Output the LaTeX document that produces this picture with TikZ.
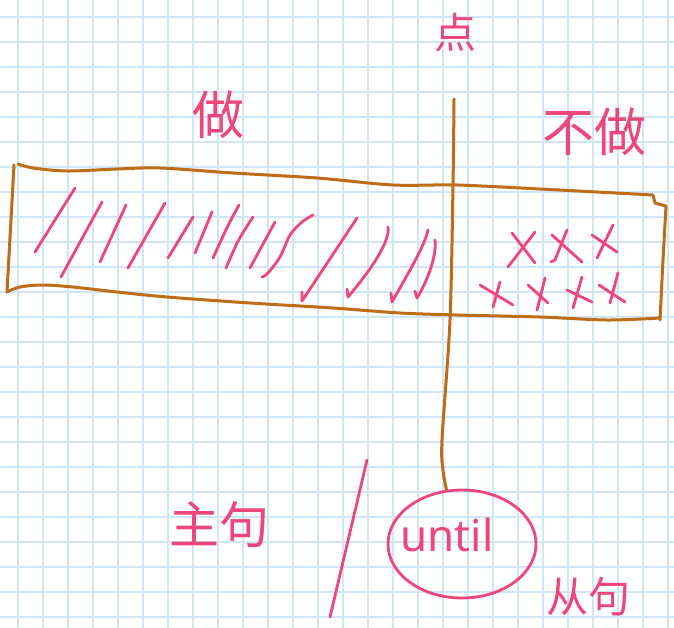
\documentclass[tikz,border=0pt]{standalone}
\usepackage{fontspec}
\setmainfont{Noto Sans}
\newfontfamily\cjk{Noto Sans CJK SC}
\usetikzlibrary{shapes.geometric}
\definecolor{pk}{RGB}{238,70,122}
\definecolor{br}{RGB}{190,108,22}
\definecolor{gr}{RGB}{208,230,247}
\begin{document}
\begin{tikzpicture}[x=1pt,y=-1pt,
  brline/.style={br,line width=3pt,line cap=round,line join=round},
  pkline/.style={pk,line width=2.8pt,line cap=round,line join=round},
  hand/.style={pk,inner sep=0pt,font=\cjk\fontsize{#1}{#1}\selectfont},
  gridline/.style={gr,line width=1.8pt}]
\fill[white] (0,0) rectangle (674,628);
\useasboundingbox (0,0) rectangle (674,628);
% grid
\foreach \i in {0,...,26} \draw[gridline] (18+25*\i,0) -- (18+25*\i,628);
\foreach \i in {0,...,24} \draw[gridline] (0,16.7+25*\i) -- (674,16.7+25*\i);

% labels
\node[hand=42] (dian) at (455,33) {点};
\node[hand=52] (zuo) at (218,115) {做};
\node[hand=52] (buzuo) at (594,132) {不做};
\node[hand=50] (zhuju) at (219,525) {主句};
\node[hand=42] (congju) at (588,597) {从句};

% until ring
\node[draw=pk,line width=2.8pt,ellipse,minimum width=148pt,minimum height=108pt,inner sep=0pt] (ring) at (462,544) {};
\node[pk,inner sep=0pt,font=\fontsize{44}{44}\selectfont] (until) at (447,535) {until};

% rectangle
\draw[brline] (14,165) -- (7,292);
\draw[brline] plot[smooth] coordinates {(18,164)(33,168)(67,171)(117,169)(160,168)(233,173)(317,178)(393,185)(457,185)(540,189)(653,195)};
\draw[brline] (653,195) -- (655,203) -- (666,206) -- (663,260) -- (660,320);
\draw[brline] plot[smooth] coordinates {(7,292)(20,287)(43,285)(73,287)(117,292)(167,297)(250,303)(333,308)(400,313)(457,315)(540,317)(607,320)(660,318)};

% vertical time line
\coordinate (ptop) at (454,99);
\draw[brline] plot[smooth] coordinates {(ptop)(453,185)(450,320)(442,440)(443,470)(ring.106)};

% slashes
\draw[pkline] (75,188) -- (35,252);
\draw[pkline] (102,202) -- (61,277);
\draw[pkline] (126,205) -- (100,262);
\draw[pkline] (165,203) -- (128,268);
\draw[pkline] (193,217) -- (168,258);
\draw[pkline] (212,212) -- (195,253);
\draw[pkline] (239,205) .. controls (228,225) .. (213,258);
\draw[pkline] (253,217) .. controls (238,240) .. (226,268);
\draw[pkline] (275,222) -- (250,268);
\draw[pkline] plot[smooth] coordinates {(313,215)(302,222)(290,235)(280,257)(268,273)(262,277)};
\draw[pkline] (302,292) -- (302,301) -- (357,218);
\draw[pkline] (347,289) -- (348,297) .. controls (375,265) and (390,240) .. (388,227);
\draw[pkline] (391,293) -- (392,302) .. controls (410,270) and (425,245) .. (428,230);
\draw[pkline] (415,291) -- (417,298) .. controls (428,280) and (437,255) .. (435,240);

% crosses
\draw[pkline] (512,233) -- (535,263) (535,232) -- (508,267);
\draw[pkline] (552,235) -- (582,262) (567,230) -- (555,260) -- (551,262);
\draw[pkline] (592,235) -- (617,252) (613,225) -- (597,258);
\draw[pkline] (480,285) -- (513,305) (500,282) -- (493,307);
\draw[pkline] (528,285) -- (548,303) (545,278) -- (537,310);
\draw[pkline] (567,290) -- (592,302) (582,277) -- (573,308);
\draw[pkline] (599,285) -- (625,302) (618,273) -- (610,303);

% divider
\draw[pkline] (367,460) -- (330,617);
\end{tikzpicture}
\end{document}
